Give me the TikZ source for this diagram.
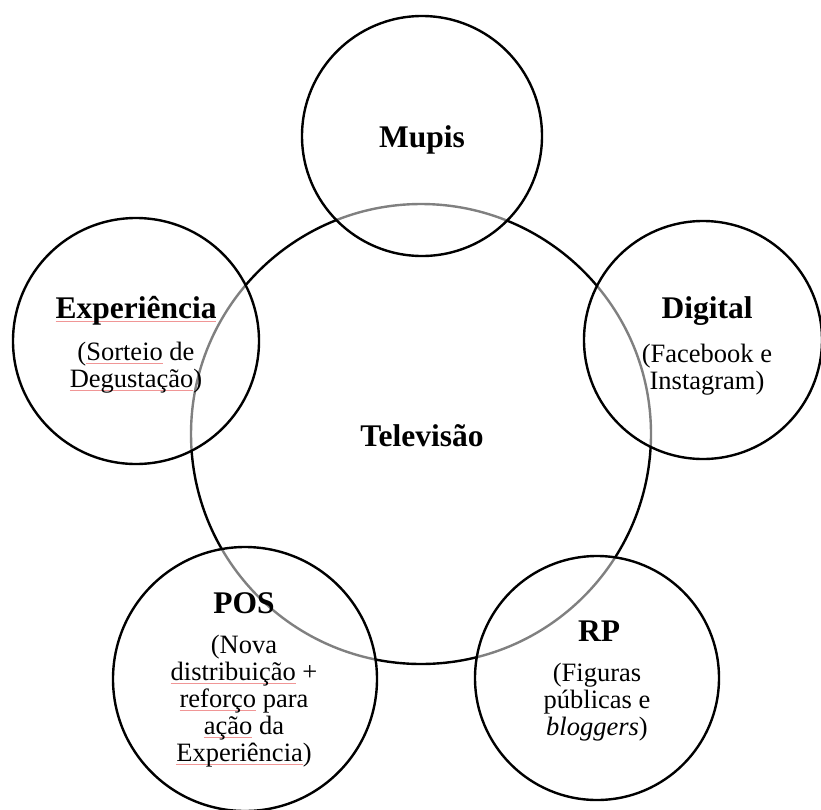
\documentclass[tikz,border=0pt]{standalone}
\usepackage{fontspec}
\setmainfont{Liberation Serif}
\definecolor{spellred}{RGB}{240,150,150}
% thin proofing underline beneath a word
\newcommand\spellmark[1]{\setbox0\hbox{#1}\rlap{\color{spellred}\rule[-3.2pt]{\wd0}{0.7pt}}\box0\relax}
\tikzset{
  hub/.style={draw=black, line width=2.4pt, circle, inner sep=0pt},
  petal/.style={draw=black, line width=2.4pt, circle, inner sep=0pt, fill=white, fill opacity=0.5},
  title/.style={font=\fontsize{31.5}{34}\selectfont\bfseries, anchor=base, inner sep=0pt, text opacity=1},
  body/.style={font=\fontsize{26.5}{27}\selectfont, anchor=base, align=center, inner sep=0pt, text opacity=1},
}
\begin{document}
\begin{tikzpicture}[x=1pt,y=-1pt]
\useasboundingbox (0,0) rectangle (821,809);
% central medium
\node[hub, minimum size=460pt] (tv) at (421,434) {};
% surrounding channels, lightly translucent so the hub outline shows grey beneath
\node[petal, minimum size=240pt] (mupis) at (422,136) {};
\node[petal, minimum size=246pt] (exp) at (136,341) {};
\node[petal, minimum size=238pt] (dig) at (703,340) {};
\node[petal, minimum size=264pt] (pos) at (245,679) {};
\node[petal, minimum size=244pt] (rp) at (597,678) {};
% labels
\node[title] (tvT) at (422,446) {Televisão};
\node[title] (mupisT) at (422,147) {Mupis};
\node[title] (expT) at (136,318) {\spellmark{Experiência}};
\node[body, anchor=north] (expB) at (136,342) {(\spellmark{Sorteio} de\\\spellmark{Degustação})};
\node[title] (digT) at (707,318) {Digital};
\node[body, anchor=north] (digB) at (707,344) {(Facebook e\\Instagram)};
\node[title] (posT) at (244,613) {POS};
\node[body, anchor=north] (posB) at (244,635) {(Nova\\\spellmark{distribuição} +\\\spellmark{reforço} para\\\spellmark{ação} da\\\spellmark{Experiência})};
\node[title] (rpT) at (599,641) {RP};
\node[body, anchor=north] (rpB) at (597,663) {(Figuras\\públicas e\\\textit{bloggers})};
\end{tikzpicture}
\end{document}
